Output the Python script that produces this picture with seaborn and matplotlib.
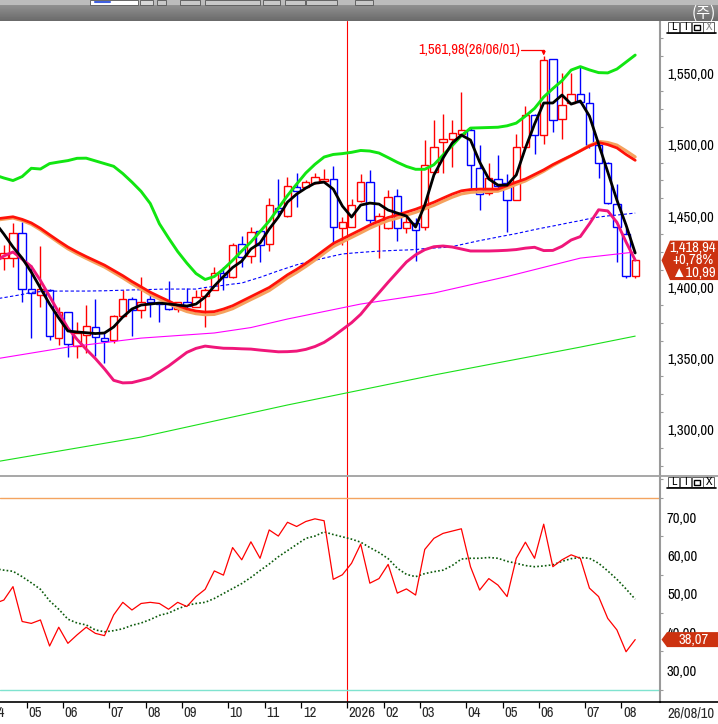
import numpy as np
import pandas as pd
import matplotlib
matplotlib.use("Agg")
import matplotlib.pyplot as plt
from matplotlib.patches import Polygon, Rectangle
from matplotlib.lines import Line2D
from matplotlib.ticker import MultipleLocator
from matplotlib.transforms import blended_transform_factory
import seaborn as sns

# weekly bars, week 0 = 2025-04-07
first_week = "2025-04-07"
weeks = list(range(71))
month_ticks = [0, 4, 8, 13, 17, 21, 26, 30, 34, 39, 43, 47, 52, 56, 60, 65, 69]
month_labels = ["04", "05", "06", "07", "08", "09", "10", "11", "12", "2026",
                "02", "03", "04", "05", "06", "07", "08"]

candle_weeks = list(range(1, 71))
opens = [1420.3, 1420.3, 1437.8, 1398.6, 1394.6, 1398.1, 1364.2, 1382.4, 1358.8, 1366.5,
         1372.4, 1364.7, 1363.0, 1379.9, 1391.8, 1384.1, 1391.8, 1388.7, 1389.4, 1384.5,
         1389.4, 1386.4, 1394.1, 1398.1, 1409.8, 1407.5, 1430.3, 1422.2, 1439.5, 1430.1,
         1455.8, 1450.2, 1470.1, 1470.1, 1472.9, 1474.8, 1475.7, 1441.8, 1442.5, 1460.7,
         1473.6, 1446.0, 1441.3, 1464.0, 1441.3, 1444.8, 1442.5, 1481.1, 1501.6, 1503.7,
         1507.9, 1510.7, 1483.4, 1466.3, 1475.7, 1473.3, 1461.6, 1498.1, 1520.8, 1507.2,
         1559.8, 1518.4, 1529.0, 1535.3, 1529.0, 1499.7, 1486.9, 1458.8, 1437.3, 1407.95]
highs = [1429.7, 1444.9, 1446.0, 1415.6, 1429.0, 1398.6, 1386.4, 1382.8, 1375.9, 1387.6,
         1391.8, 1368.9, 1380.6, 1398.1, 1393.0, 1407.4, 1394.6, 1390.0, 1404.4, 1389.9,
         1399.7, 1398.1, 1399.3, 1414.0, 1414.5, 1430.8, 1436.0, 1442.5, 1440.2, 1462.8,
         1475.7, 1477.6, 1479.9, 1475.2, 1480.4, 1482.7, 1485.1, 1449.0, 1461.7, 1479.2,
         1482.2, 1451.8, 1468.2, 1468.7, 1449.0, 1448.3, 1503.0, 1517.7, 1521.9, 1517.7,
         1537.1, 1512.6, 1499.7, 1486.9, 1492.7, 1479.4, 1507.5, 1527.1, 1521.9, 1561.98,
         1560.5, 1550.0, 1550.0, 1555.1, 1537.1, 1503.3, 1488.0, 1472.4, 1441.3, 1419.5]
lows = [1412.1, 1414.0, 1390.0, 1364.2, 1386.4, 1363.0, 1359.5, 1350.9, 1350.2, 1353.7,
        1352.0, 1347.1, 1361.2, 1379.4, 1365.8, 1378.2, 1379.4, 1375.9, 1384.0, 1382.9,
        1384.5, 1386.4, 1372.4, 1398.0, 1398.1, 1406.3, 1414.4, 1417.2, 1417.9, 1425.7,
        1450.0, 1449.0, 1456.5, 1469.4, 1472.4, 1474.5, 1428.5, 1429.6, 1442.0, 1460.0,
        1444.8, 1420.3, 1440.9, 1432.7, 1437.8, 1418.4, 1440.2, 1479.9, 1479.9, 1484.5,
        1507.5, 1469.3, 1454.1, 1464.7, 1468.2, 1438.5, 1461.0, 1497.4, 1493.4, 1500.4,
        1509.1, 1503.7, 1528.5, 1529.4, 1497.4, 1476.4, 1458.8, 1417.9, 1406.9, 1406.5]
closes = [1424.3, 1437.8, 1398.8, 1395.8, 1398.6, 1365.8, 1382.4, 1360.2, 1367.7, 1373.1,
          1364.9, 1362.6, 1379.9, 1391.8, 1384.1, 1389.4, 1389.9, 1388.3, 1384.5, 1389.4,
          1386.9, 1393.0, 1398.1, 1409.8, 1407.5, 1429.7, 1421.5, 1439.0, 1429.6, 1457.7,
          1453.7, 1471.0, 1467.7, 1474.1, 1477.1, 1475.7, 1442.5, 1445.5, 1457.7, 1473.6,
          1447.2, 1450.0, 1463.1, 1441.3, 1445.5, 1440.2, 1485.7, 1498.1, 1503.7, 1508.6,
          1510.7, 1485.7, 1465.8, 1476.4, 1471.0, 1461.6, 1498.1, 1520.8, 1507.2, 1559.4,
          1517.7, 1527.8, 1535.3, 1530.1, 1499.7, 1487.3, 1459.3, 1442.5, 1407.95, 1418.94]

# indicator lines, one value per week
ma_short = [1445.8, 1437.4, 1428.3, 1420.5, 1410.7, 1399.5, 1388.3, 1378.5, 1369.4, 1368.7,
            1368.2, 1367.6, 1368.0, 1372.2, 1379.2, 1384.8, 1387.6, 1388.3, 1389.0, 1388.3,
            1387.6, 1386.9, 1388.3, 1393.2, 1400.9, 1407.6, 1413.9, 1418.4, 1426.9, 1431.1,
            1440.9, 1449.3, 1459.8, 1465.4, 1469.6, 1473.1, 1473.8, 1468.9, 1457.0, 1449.3,
            1457.7, 1459.1, 1458.4, 1454.2, 1452.1, 1450.0, 1442.3, 1457.7, 1478.8, 1490.7,
            1501.2, 1506.8, 1503.3, 1487.9, 1476.0, 1471.7, 1471.7, 1478.8, 1497.7, 1514.5,
            1529.3, 1529.3, 1534.9, 1528.5, 1530.7, 1520.1, 1500.5, 1480.9, 1461.2, 1443.7,
            1424.1]
band_up = [1478.8, 1476.7, 1474.9, 1477.7, 1483.5, 1483.0, 1486.8, 1487.9, 1488.9, 1490.5,
           1490.6, 1488.7, 1486.8, 1484.9, 1479.8, 1473.8, 1467.3, 1458.8, 1444.6, 1434.6,
           1425.1, 1417.0, 1409.7, 1405.5, 1407.6, 1412.8, 1418.9, 1425.5, 1431.8, 1439.1,
           1446.5, 1455.5, 1464.4, 1472.4, 1480.2, 1486.3, 1491.4, 1493.2, 1493.8, 1494.7,
           1496.0, 1495.6, 1494.2, 1491.0, 1487.7, 1484.8, 1482.8, 1482.8, 1486.0, 1492.8,
           1499.4, 1506.3, 1511.7, 1511.9, 1512.1, 1512.3, 1513.3, 1515.2, 1520.1, 1525.5,
           1533.5, 1539.4, 1544.9, 1552.4, 1554.8, 1552.5, 1550.6, 1550.4, 1553.1, 1558.0,
           1562.9]
band_mid = [1447.9, 1448.7, 1449.5, 1447.7, 1445.2, 1441.4, 1436.9, 1432.5, 1428.3, 1424.8,
            1421.6, 1418.6, 1415.6, 1411.9, 1408.2, 1404.1, 1400.4, 1396.6, 1393.5, 1390.5,
            1387.3, 1384.9, 1383.4, 1382.7, 1383.0, 1384.8, 1387.1, 1390.3, 1393.5, 1396.7,
            1399.9, 1404.3, 1408.8, 1412.6, 1416.8, 1421.3, 1426.1, 1430.8, 1434.0, 1437.2,
            1440.4, 1443.7, 1446.5, 1449.0, 1450.7, 1452.8, 1454.8, 1457.2, 1459.7, 1462.6,
            1465.4, 1467.7, 1468.6, 1468.9, 1468.9, 1468.9, 1471.3, 1473.8, 1476.0, 1479.2,
            1482.4, 1486.1, 1489.3, 1492.4, 1495.7, 1499.1, 1501.6, 1500.1, 1497.8, 1493.2,
            1489.1]
ma_orange = [1447.0, 1447.8, 1448.6, 1446.8, 1444.2, 1440.3, 1435.8, 1431.3, 1427.0, 1423.5,
             1420.3, 1417.2, 1414.2, 1410.4, 1406.6, 1402.5, 1398.7, 1394.9, 1391.8, 1388.7,
             1385.5, 1383.0, 1381.5, 1380.8, 1381.0, 1382.8, 1385.0, 1388.2, 1391.4, 1394.5,
             1397.7, 1402.1, 1406.6, 1410.4, 1414.6, 1419.1, 1423.9, 1428.6, 1431.8, 1435.0,
             1438.2, 1441.5, 1444.3, 1446.8, 1448.5, 1450.6, 1452.6, 1455.0, 1457.5, 1460.4,
             1463.2, 1465.5, 1466.6, 1467.0, 1467.2, 1467.4, 1469.6, 1472.2, 1474.6, 1478.0,
             1481.4, 1485.3, 1488.8, 1492.2, 1495.8, 1499.5, 1502.4, 1501.6, 1499.8, 1495.8,
             1491.5]
band_low = [1417.7, 1422.0, 1424.8, 1419.8, 1414.6, 1404.8, 1393.7, 1382.4, 1371.5, 1363.5,
            1356.6, 1350.1, 1342.8, 1334.8, 1333.0, 1333.2, 1334.8, 1336.5, 1340.7, 1344.8,
            1349.6, 1354.4, 1357.2, 1358.8, 1358.0, 1357.3, 1357.2, 1356.9, 1356.7, 1356.0,
            1355.4, 1354.8, 1354.9, 1355.3, 1356.5, 1358.5, 1361.4, 1365.6, 1370.4, 1375.2,
            1381.1, 1388.9, 1396.2, 1403.6, 1410.7, 1417.8, 1422.8, 1426.4, 1428.5, 1429.0,
            1428.3, 1426.9, 1425.5, 1425.5, 1425.5, 1425.7, 1426.0, 1426.5, 1427.5, 1428.1,
            1425.8, 1425.9, 1428.8, 1433.2, 1435.6, 1444.6, 1454.4, 1453.6, 1445.6, 1431.8,
            1419.1]
ma_blue = [1391.8, 1392.8, 1393.9, 1395.0, 1396.5, 1397.0, 1397.3, 1397.4, 1397.4, 1397.4,
           1397.4, 1397.5, 1397.6, 1397.8, 1398.0, 1398.2, 1398.3, 1398.5, 1398.7, 1398.8,
           1398.8, 1398.8, 1398.8, 1399.9, 1400.7, 1401.4, 1402.3, 1403.0, 1405.1, 1407.0,
           1409.3, 1411.6, 1413.7, 1415.8, 1417.5, 1419.0, 1420.5, 1422.0, 1423.4, 1424.0,
           1424.5, 1425.0, 1425.4, 1425.7, 1426.0, 1426.2, 1426.5, 1427.2, 1427.6, 1427.9,
           1428.6, 1430.0, 1431.4, 1432.8, 1434.0, 1435.3, 1436.5, 1437.7, 1439.1, 1440.5,
           1441.8, 1443.0, 1444.3, 1445.6, 1446.8, 1448.2, 1449.3, 1450.1, 1450.7, 1451.4,
           1452.1]
slow_weeks = [0, 8, 16, 24, 28, 32, 40, 48, 56, 64, 70]
ma_magenta = [1349.7, 1358.1, 1364.4, 1368.0, 1371.8, 1377.8, 1388.3, 1396.0, 1407.6, 1420.5, 1424.8]
long_weeks = [0, 16, 32, 48, 64, 70]
ma_long = [1277.5, 1295.0, 1317.5, 1338.5, 1358.1, 1365.8]

rsi = [47.5, 48.4, 51.9, 42.8, 42.3, 43.2, 36.4, 41.3, 37.1, 39.3,
       41.3, 39.7, 39.1, 44.5, 47.8, 45.8, 47.5, 47.8, 47.5, 46.0,
       47.8, 46.7, 49.3, 51.2, 56.0, 54.9, 62.1, 58.9, 63.6, 59.3,
       66.7, 65.1, 68.7, 67.6, 68.9, 69.6, 69.1, 53.8, 55.0, 58.0,
       63.0, 52.8, 54.0, 57.7, 50.2, 51.3, 49.7, 61.6, 64.5, 65.8,
       66.4, 67.0, 57.1, 51.0, 54.0, 52.3, 49.3, 59.3, 63.5, 59.3,
       68.2, 57.1, 58.9, 60.2, 59.3, 51.5, 49.3, 43.6, 40.6, 34.9,
       38.07]
rsi_signal = [56.6, 56.2, 55.9, 54.5, 52.9, 51.2, 48.2, 46.0, 43.4, 42.4,
              41.9, 40.6, 40.1, 40.4, 40.9, 41.8, 42.4, 43.3, 44.4, 45.0,
              46.1, 47.0, 47.5, 47.8, 48.8, 50.1, 51.4, 52.7, 54.3, 56.1,
              57.8, 59.7, 61.3, 62.9, 64.5, 65.1, 66.2, 65.5, 64.9, 64.3,
              63.5, 62.1, 60.8, 59.2, 56.7, 55.1, 54.5, 55.3, 55.8, 56.2,
              57.4, 59.1, 59.3, 59.3, 59.5, 59.3, 58.5, 58.0, 57.4, 57.1,
              57.3, 57.6, 58.5, 59.2, 59.5, 59.3, 58.0, 56.0, 53.8, 51.3,
              48.6]
price_ticks = [1300, 1350, 1400, 1450, 1500, 1550]
rsi_ticks = [30, 40, 50, 60, 70]
rsi_levels = [75, 25]

sns.set_theme(style="white")
plt.rcParams["font.family"] = ["Archivo Narrow", "Liberation Sans", "DejaVu Sans"]
plt.rcParams["axes.unicode_minus"] = False

W, H = 718, 724
fig = plt.figure(figsize=(W / 100, H / 100), dpi=100)
fig.patch.set_facecolor("white")


def box(x0, y0, x1, y1):
    return [x0 / W, 1 - y1 / H, (x1 - x0) / W, (y1 - y0) / H]


def kfmt(v):
    return f"{v:,.2f}".replace(".", ",")


def fline(xs, ys, **kw):
    fig.add_artist(Line2D([x / W for x in xs], [1 - y / H for y in ys],
                          transform=fig.transFigure, **kw))


def fpoly(pts, color):
    fig.add_artist(Polygon([(x / W, 1 - y / H) for x, y in pts], closed=True,
                           transform=fig.transFigure, facecolor=color, edgecolor="none"))


def ftext(x, y, s, **kw):
    fig.text(x / W, 1 - y / H, s, **kw)


dates = pd.date_range(first_week, periods=len(weeks), freq="7D")
xlim = (0.58, 72.71)

# ---------- price panel ----------
ax = fig.add_axes(box(0, 21, 660, 475))

cdf = pd.DataFrame({"week": candle_weeks, "open": opens, "high": highs,
                    "low": lows, "close": closes})
ccol = np.where(cdf["close"] >= cdf["open"], "#ff0000", "#0000ff")
ax.vlines(cdf["week"], cdf["low"], cdf["high"], colors=ccol, lw=1.0, zorder=2)
body_lo = np.minimum(cdf["open"], cdf["close"])
body_h = np.maximum((cdf["close"] - cdf["open"]).abs(), 0.4)
ax.bar(cdf["week"], body_h, bottom=body_lo, width=0.8, facecolor="white",
       edgecolor=ccol, linewidth=1.0, zorder=3)

sns.lineplot(x=long_weeks, y=ma_long, ax=ax, color="#19e019", lw=0.8, zorder=4)
sns.lineplot(x=slow_weeks, y=ma_magenta, ax=ax, color="#ff00ff", lw=0.8, zorder=4)
sns.lineplot(x=weeks, y=ma_blue, ax=ax, color="#0000ff", lw=0.8,
             linestyle=(0, (3, 2)), zorder=4)
sns.lineplot(x=weeks, y=band_up, ax=ax, color="#11e611", lw=2.1, zorder=5)
sns.lineplot(x=weeks, y=band_low, ax=ax, color="#f0167a", lw=2.1, zorder=5)
sns.lineplot(x=weeks, y=ma_orange, ax=ax, color="#f5a25e", lw=2.2, zorder=5)
sns.lineplot(x=weeks, y=band_mid, ax=ax, color="#ff1208", lw=2.0, zorder=5)
sns.lineplot(x=weeks, y=ma_short, ax=ax, color="#000000", lw=2.0, zorder=6)
ax.axvline(38.5, color="#ff0000", lw=0.8, zorder=1)

# highest bar note
pk = int(np.argmax(highs))
pk_week, pk_val = candle_weeks[pk], highs[pk]
ty = pk_val + 4.2
ax.text(pk_week - 2.6, ty, f"{kfmt(pk_val)}({dates[pk_week].strftime('%y/%m/%d')})",
        color="#ff0000", ha="right", va="center", fontsize=10.5)
ax.plot([pk_week - 2.5, pk_week], [ty, ty], color="#ff0000", lw=0.9)
ax.annotate("", xy=(pk_week, pk_val + 0.6), xytext=(pk_week, ty),
            arrowprops=dict(arrowstyle="-|>", color="#ff0000", lw=0.9,
                            mutation_scale=5, shrinkA=0, shrinkB=0))

ax.set_xticks([])
ax.set_xlabel("")
ax.set_ylabel("")
ax.yaxis.tick_right()
ax.set_yticks(price_ticks)
ax.set_yticklabels([kfmt(v) for v in price_ticks])
ax.yaxis.set_minor_locator(MultipleLocator(12.5))
ax.tick_params(axis="y", which="major", length=0, pad=5, labelsize=10.5, labelcolor="black")
ax.tick_params(axis="y", which="minor", right=True, length=2.5, width=0.8,
               color="#9a9a9a", direction="out")
for s in ["left", "top", "bottom"]:
    ax.spines[s].set_visible(False)
ax.spines["right"].set_color("#9a9a9a")
ax.spines["right"].set_linewidth(1.5)
ax.set_xlim(*xlim)
ax.set_ylim(1268.4, 1586.8)

# ---------- oscillator panel ----------
ax2 = fig.add_axes(box(0, 476, 660, 702))
ax2.axhline(rsi_levels[0], color="#f4a460", lw=1.0)
ax2.axhline(rsi_levels[1], color="#7fe3cf", lw=1.0)
ax2.axvline(38.5, color="#ff0000", lw=0.8, zorder=1)
sns.lineplot(x=weeks, y=rsi_signal, ax=ax2, color="#0b5a0b", lw=1.2,
             linestyle=(0, (1, 1.3)), zorder=3)
sns.lineplot(x=weeks, y=rsi, ax=ax2, color="#ff0000", lw=0.9, zorder=4)
ax2.set_xlabel("")
ax2.set_ylabel("")
ax2.yaxis.tick_right()
ax2.set_yticks(rsi_ticks)
ax2.set_yticklabels([kfmt(v) for v in rsi_ticks])
ax2.yaxis.set_minor_locator(MultipleLocator(5))
ax2.tick_params(axis="y", which="major", length=0, pad=5, labelsize=10.5, labelcolor="black")
ax2.tick_params(axis="y", which="minor", right=True, length=2.5, width=0.8,
                color="#9a9a9a", direction="out")
ax2.set_xticks([m - 0.5 for m in month_ticks])
ax2.set_xticklabels([])
ax2.tick_params(axis="x", which="major", bottom=True, length=4.5, width=0.9,
                direction="out", color="black")
for s in ["left", "top"]:
    ax2.spines[s].set_visible(False)
ax2.spines["right"].set_color("#9a9a9a")
ax2.spines["right"].set_linewidth(1.5)
ax2.spines["bottom"].set_color("black")
ax2.spines["bottom"].set_linewidth(1.2)
ax2.set_xlim(*xlim)
ax2.set_ylim(21.78, 80.78)
tr = blended_transform_factory(ax2.transData, ax2.transAxes)
for m, lab in zip(month_ticks, month_labels):
    ax2.text(m - 0.5 + 0.17, -0.05, lab, transform=tr, ha="left", va="center",
             fontsize=10.5, fontweight="bold" if lab == "2026" else "normal", clip_on=False)
ftext(667, 713, dates[-1].strftime("%y/%m/%d"), ha="left", va="center", fontsize=10.5)

# frame lines
fline([0, 718], [475.5, 475.5], color="#a0a0a0", lw=1.3)
fline([660, 718], [702, 702], color="black", lw=1.2)

# ---------- header ----------
fig.add_artist(Rectangle((0, 1 - 5 / H), 1, 5 / H, transform=fig.transFigure,
                         facecolor="#bcbcbc", edgecolor="none"))
for x0, x1, fc in [(90, 138, "white"), (140, 153, "#d8d8d8"), (157, 166, "#c8c8c8"),
                   (180, 200, "#c8c8c8"), (205, 260, "#c8c8c8"), (263, 280, "#c8c8c8"),
                   (285, 305, "#c8c8c8"), (306, 337, "#c8c8c8"), (355, 373, "#c8c8c8")]:
    fig.add_artist(Rectangle((x0 / W, 1 - 5 / H), (x1 - x0) / W, 5 / H,
                             transform=fig.transFigure, facecolor=fc,
                             edgecolor="#555555", lw=0.6))
fline([95, 110], [1.5, 1.5], color="#4060e0", lw=1.5)
hax = fig.add_axes(box(0, 5, 718, 21))
hax.imshow(np.linspace(0.56, 0.42, 16)[:, None], cmap="gray", vmin=0, vmax=1, aspect="auto")
hax.axis("off")
ftext(716, 13, "(주)", color="white", ha="right", va="center", fontsize=11,
      family=["Noto Sans CJK KR", "DejaVu Sans"])


# panel buttons
def buttons(y0, last_color):
    for k, ch in enumerate(["L", "I", "", "X"]):
        x0 = 668 + k * 11.8
        fig.add_artist(Rectangle((x0 / W, 1 - (y0 + 10) / H), 11 / W, 10 / H,
                                 transform=fig.transFigure, facecolor="white",
                                 edgecolor="#606060", lw=0.7))
        if ch:
            ftext(x0 + 5.5, y0 + 5, ch, ha="center", va="center", fontsize=8.5,
                  color=last_color if ch == "X" else "black", fontweight="bold")
        else:
            fig.add_artist(Rectangle(((x0 + 2.5) / W, 1 - (y0 + 7.5) / H), 6 / W, 5 / H,
                                     transform=fig.transFigure, facecolor="none",
                                     edgecolor="black", lw=1.0))
    fline([667, 716], [y0 + 10.5, y0 + 10.5], color="black", lw=1.2)


buttons(22.5, "#8a8a8a")
buttons(477, "black")

# last value tags
last_y = H - ax.transData.transform((1, closes[-1]))[1]
fpoly([(661.5, last_y), (670, last_y - 19.7), (718, last_y - 19.7),
       (718, last_y + 19.7), (670, last_y + 19.7)], "#cc3210")
chg = closes[-1] - closes[-2]
ftext(693, last_y - 12.5, kfmt(closes[-1]), color="white", ha="center", va="center", fontsize=10.5)
ftext(693, last_y, f"+{chg / closes[-2] * 100:.2f}%".replace(".", ","), color="white",
      ha="center", va="center", fontsize=10.5)
ftext(693, last_y + 12.5, "▲" + kfmt(chg), color="white", ha="center", va="center", fontsize=10.5)

rsi_y = H - ax2.transData.transform((1, rsi[-1]))[1]
fpoly([(661.5, rsi_y), (667, rsi_y - 7.5), (718, rsi_y - 7.5),
       (718, rsi_y + 7.5), (667, rsi_y + 7.5)], "#cc3210")
ftext(694, rsi_y, kfmt(rsi[-1]), color="white", ha="center", va="center", fontsize=10.5)

fig.savefig("out.png", dpi=100, facecolor="white")
